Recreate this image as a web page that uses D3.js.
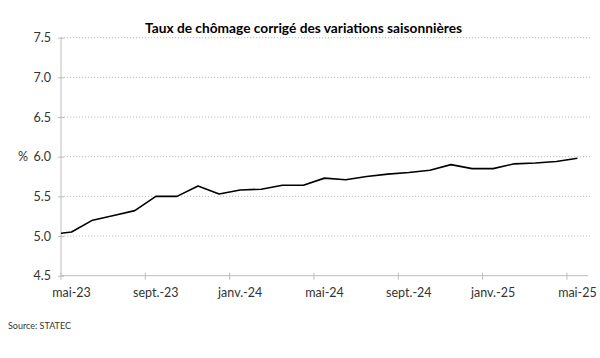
<!DOCTYPE html>
<html>
<head>
<meta charset="utf-8">
<script src="https://cdn.jsdelivr.net/npm/d3@7"></script>
<style>
  html, body { margin: 0; padding: 0; background: #fff; }
  svg { display: block; }
  text { font-family: Lato, "Open Sans", sans-serif; }
</style>
</head>
<body>
<svg id="chart" width="600" height="358"></svg>
<script>
// ---- data ----
const title = "Taux de chômage corrigé des variations saisonnières";
const source = "Source: STATEC";
const months = ["mai-23","juin-23","juil.-23","août-23","sept.-23","oct.-23","nov.-23","déc.-23",
  "janv.-24","févr.-24","mars-24","avr.-24","mai-24","juin-24","juil.-24","août-24","sept.-24",
  "oct.-24","nov.-24","déc.-24","janv.-25","févr.-25","mars-25","avr.-25","mai-25"];
const rate = [5.05,5.20,5.26,5.32,5.50,5.50,5.63,5.53,5.58,5.59,5.64,5.64,5.73,5.71,5.75,5.78,5.80,
  5.83,5.90,5.85,5.85,5.91,5.92,5.94,5.98];
const priorMonth = "avr.-23";   // previous month, only partly visible at the axis
const priorRate = 5.02;
const xTickLabels = ["mai-23","sept.-23","janv.-24","mai-24","sept.-24","janv.-25","mai-25"];
const yTicks = [4.5,5.0,5.5,6.0,6.5,7.0,7.5];

// ---- layout ----
const L = 61, R = 588, T = 37.7, B = 275.7;
const svg = d3.select("#chart");

const x = d3.scaleBand().domain(months).range([L, R]).paddingInner(0).paddingOuter(0);
const step = x.step();
const xc = m => m === priorMonth ? x(months[0]) - step + step / 2 : x(m) + step / 2;
const y = d3.scaleLinear().domain([4.5, 7.5]).range([B, T]);

// gridlines
svg.append("g").selectAll("line").data(yTicks.filter(v => v > 4.5)).join("line")
  .attr("x1", L).attr("x2", R + 2)
  .attr("y1", d => y(d)).attr("y2", d => y(d))
  .attr("stroke", "#bdbdbd").attr("stroke-width", 1)
  .attr("stroke-dasharray", "1.2,1.8");

// y axis
const yAxis = d3.axisLeft(y).tickValues(yTicks).tickFormat(d3.format(".1f")).tickSize(0).tickPadding(10);
const gy = svg.append("g").attr("transform", `translate(${L},0)`).call(yAxis);
gy.select(".domain").remove();
gy.selectAll("text").attr("font-size", 12.5).attr("fill", "#333")
  .attr("font-family", "Lato, sans-serif");
gy.selectAll(".tick").append("line").attr("x1", -3).attr("x2", 3).attr("stroke", "#bdbdbd");
svg.append("line").attr("x1", L).attr("x2", L).attr("y1", T).attr("y2", B)
  .attr("stroke", "#bdbdbd").attr("stroke-width", 1);

// % label
svg.append("text").attr("x", 28).attr("y", y(6.0)).attr("dy", "0.35em")
  .attr("text-anchor", "end").attr("font-size", 12.5).attr("fill", "#333").text("%");

// x axis
svg.append("line").attr("x1", L).attr("x2", R).attr("y1", B).attr("y2", B)
  .attr("stroke", "#bdbdbd").attr("stroke-width", 1);
const tickIdx = xTickLabels.map(l => months.indexOf(l));
svg.append("g").selectAll("line").data(tickIdx).join("line")
  .attr("x1", i => x(months[i])).attr("x2", i => x(months[i]))
  .attr("y1", B - 3).attr("y2", B + 4).attr("stroke", "#bdbdbd");
svg.append("g").selectAll("text").data(xTickLabels).join("text")
  .attr("x", d => xc(d)).attr("y", 297)
  .attr("text-anchor", "middle").attr("font-size", 12.5).attr("fill", "#333")
  .text(d => d);

// clip
svg.append("clipPath").attr("id", "clip").append("rect")
  .attr("x", L).attr("y", T - 5).attr("width", R - L + 5).attr("height", B - T + 10);

// line
const pts = [[priorMonth, priorRate]].concat(months.map((m, i) => [m, rate[i]]));
svg.append("path").datum(pts)
  .attr("clip-path", "url(#clip)")
  .attr("fill", "none").attr("stroke", "#000").attr("stroke-width", 1.6)
  .attr("stroke-linejoin", "round")
  .attr("d", d3.line().x(d => xc(d[0])).y(d => y(d[1])));

// title
const tt = svg.append("text").attr("x", 303.5).attr("y", 33).attr("text-anchor", "middle")
  .attr("font-size", 13.5).attr("font-weight", "bold").attr("fill", "#000").text(title);
const w = tt.node().getComputedTextLength();
if (w < 317 || w > 317) tt.attr("textLength", 317).attr("lengthAdjust", "spacingAndGlyphs");

// source
const st = svg.append("text").attr("x", 8).attr("y", 329).attr("font-size", 9.5).attr("fill", "#333").text(source);
if (st.node().getComputedTextLength() > 63) st.attr("textLength", 63).attr("lengthAdjust", "spacingAndGlyphs");
</script>
</body>
</html>
